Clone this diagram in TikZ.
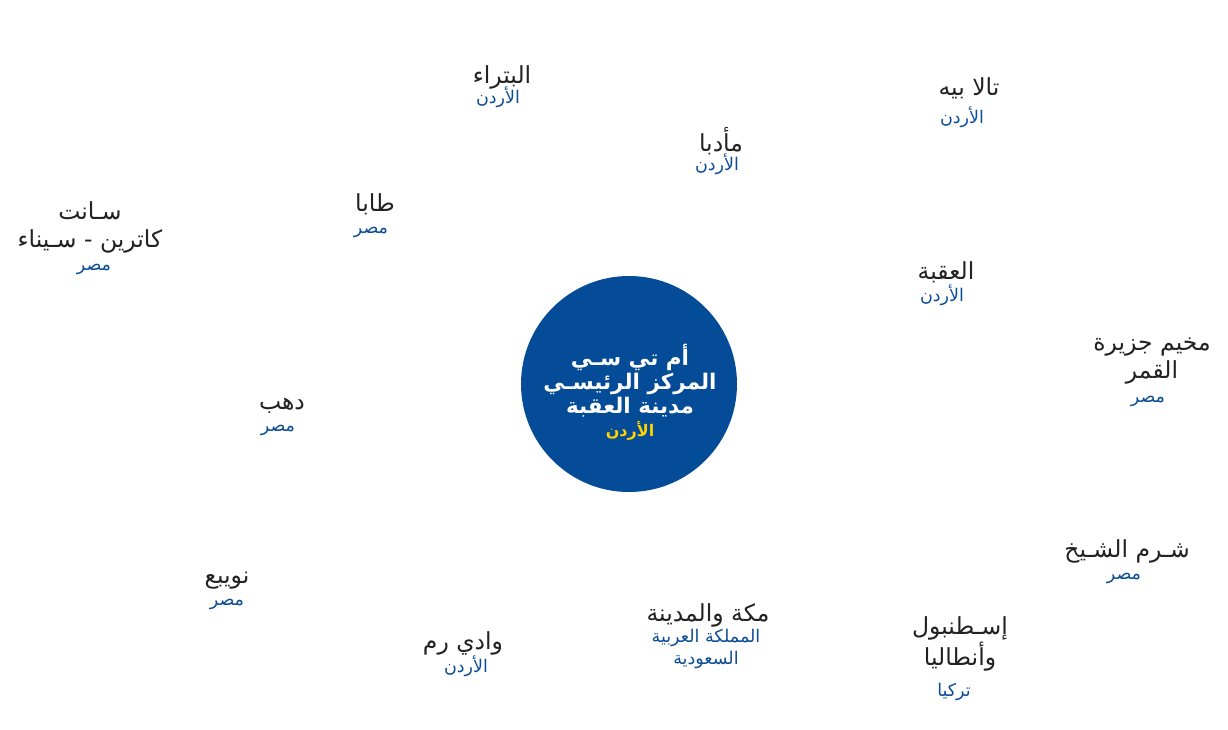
\documentclass[tikz,border=0pt]{standalone}
\usepackage{fontspec}
\TeXXeTstate=1
\newfontfamily\arabicfont[Script=Arabic]{DejaVu Sans}
\definecolor{hubblue}{HTML}{054C98}
\definecolor{subblue}{HTML}{0B4C96}
\definecolor{hubyellow}{HTML}{FFD200}
\definecolor{txtdark}{HTML}{222222}
\newcommand\AR[1]{\beginR #1\endR}
\tikzset{
  city/.style={inner sep=0pt, align=center, text=txtdark, font=\arabicfont\fontsize{23.5}{28}\selectfont},
  country/.style={inner sep=0pt, align=center, text=subblue, font=\arabicfont\fontsize{17.5}{22}\selectfont},
  hub/.style={circle, fill=hubblue, minimum size=216pt, inner sep=0pt},
  hubtxt/.style={inner sep=0pt, align=center, text=white, font=\arabicfont\bfseries\fontsize{21.5}{24}\selectfont},
  hubctry/.style={inner sep=0pt, text=hubyellow, font=\arabicfont\bfseries\fontsize{16}{20}\selectfont}
}
\begin{document}
\begin{tikzpicture}[x=1pt,y=-1pt]
\useasboundingbox (0,0) rectangle (1228,729);
% hub
\node[hub] (hub) at (629,384) {};
\node[hubtxt] (hubname) at (630,381) {\AR{أم تي سـي}\\\AR{المركز الرئيسـي}\\\AR{مدينة العقبة}};
\node[hubctry] (hubcountry) at (630,431) {\AR{الأردن}};
% cities
\node[city] (petra) at (502,77) {\AR{البتراء}};
\node[country] (petrac) at (498,97) {\AR{الأردن}};
\node[city] (madaba) at (721,141) {\AR{مأدبا}};
\node[country] (madabac) at (717,164) {\AR{الأردن}};
\node[city] (tala) at (969,88) {\AR{تالا بيه}};
\node[country] (talac) at (962,117) {\AR{الأردن}};
\node[city] (taba) at (375,204) {\AR{طابا}};
\node[country] (tabac) at (371,232) {\AR{مصر}};
\node[city] (stk) at (90,227) {\AR{سـانت}\\\AR{كاترين - سـيناء}};
\node[country] (stkc) at (94,269) {\AR{مصر}};
\node[city] (aqaba) at (946,272) {\AR{العقبة}};
\node[country] (aqabac) at (942,295) {\AR{الأردن}};
\node[city] (qamar) at (1152,361) {\AR{مخيم جزيرة}\\\AR{القمر}};
\node[country] (qamarc) at (1148,401) {\AR{مصر}};
\node[city] (dahab) at (282,406) {\AR{دهب}};
\node[country] (dahabc) at (278,430) {\AR{مصر}};
\node[city] (sharm) at (1127,551) {\AR{شـرم الشـيخ}};
\node[country] (sharmc) at (1124,578) {\AR{مصر}};
\node[city] (nuweiba) at (227,581) {\AR{نويبع}};
\node[country] (nuweibac) at (227,604) {\AR{مصر}};
\node[city] (makkah) at (708,615) {\AR{مكة والمدينة}};
\node[country] (makkahc) at (706,649) {\AR{المملكة العربية}\\\AR{السعودية}};
\node[city] (rum) at (463,643) {\AR{وادي رم}};
\node[country] (rumc) at (466,666) {\AR{الأردن}};
\node[city] (ist) at (960,644) {\AR{إسـطنبول}\\\AR{وأنطاليا}};
\node[country] (istc) at (954,692) {\AR{تركيا}};
\end{tikzpicture}
\end{document}
